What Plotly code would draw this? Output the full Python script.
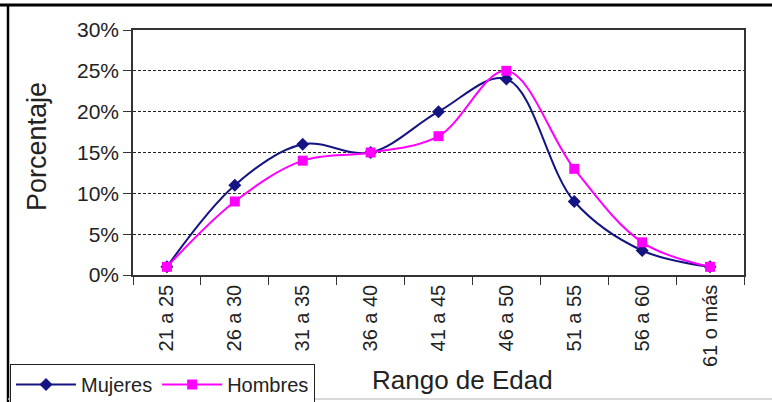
import plotly.graph_objects as go

categorias = ["21 a 25", "26 a 30", "31 a 35", "36 a 40", "41 a 45",
              "46 a 50", "51 a 55", "56 a 60", "61 o más"]
mujeres = [1, 11, 16, 15, 20, 24, 9, 3, 1]
hombres = [1, 9, 14, 15, 17, 25, 13, 4, 1]
y_ticks = [0, 5, 10, 15, 20, 25, 30]
y_tick_labels = ["0%", "5%", "10%", "15%", "20%", "25%", "30%"]

W, H = 772, 402
L, R, T, B = 133, 744, 30, 275

def px(x):
    return (x - L) / (R - L)

def py(y):
    return (B - y) / (B - T)

FONT = "Liberation Sans, Arial, sans-serif"

fig = go.Figure()
fig.add_trace(go.Scatter(
    x=categorias, y=mujeres, name="Mujeres", mode="lines+markers",
    line=dict(color="#141482", width=2, shape="spline", smoothing=1),
    marker=dict(symbol="diamond", size=10, color="#141482"),
))
fig.add_trace(go.Scatter(
    x=categorias, y=hombres, name="Hombres", mode="lines+markers",
    line=dict(color="#ff00ff", width=2, shape="spline", smoothing=1),
    marker=dict(symbol="square", size=10, color="#ff00ff"),
))

fig.update_layout(
    width=W, height=H,
    margin=dict(l=L, r=W - R, t=T, b=H - B, autoexpand=False),
    paper_bgcolor="white", plot_bgcolor="white",
    font=dict(family=FONT, color="#222222"),
    showlegend=True,
    legend=dict(
        orientation="h", x=px(10), y=py(364), xanchor="left", yanchor="top",
        bordercolor="#222222", borderwidth=1, bgcolor="white",
        font=dict(family=FONT, size=20, color="#222222"),
        itemwidth=60, tracegroupgap=0,
    ),
    xaxis=dict(
        type="category", range=[-0.5, 8.5],
        showgrid=False, showline=True, linecolor="#333333", linewidth=1.5,
        mirror=True, ticks="outside", ticklen=8, tickcolor="#333333",
        tickson="boundaries", tickangle=-90,
        tickfont=dict(family=FONT, size=20, color="#222222"),
    ),
    yaxis=dict(
        range=[0, 30], tickvals=y_ticks, ticktext=y_tick_labels,
        showgrid=True, gridcolor="#222222", gridwidth=1, griddash="3px,2px",
        showline=True, linecolor="#333333", linewidth=1.5, mirror=True,
        ticks="outside", ticklen=8, tickcolor="#333333",
        tickfont=dict(family=FONT, size=21, color="#222222"),
        zeroline=False,
    ),
    annotations=[
        dict(text="Rango de Edad", x=px(462), y=py(380), xref="paper", yref="paper",
             showarrow=False, xanchor="center", yanchor="middle",
             font=dict(family=FONT, size=26, color="#222222")),
        dict(text="Porcentaje", x=px(37), y=py(147), xref="paper", yref="paper",
             showarrow=False, xanchor="center", yanchor="middle", textangle=-90,
             font=dict(family=FONT, size=27, color="#222222")),
    ],
    shapes=[
        dict(type="line", xref="paper", yref="paper", x0=px(0), x1=px(772),
             y0=py(5), y1=py(5), line=dict(color="black", width=3)),
        dict(type="line", xref="paper", yref="paper", x0=px(8), x1=px(8),
             y0=py(5), y1=py(402), line=dict(color="black", width=2.5)),
        dict(type="line", xref="paper", yref="paper", x0=px(8), x1=px(772),
             y0=py(399), y1=py(399), line=dict(color="#cccccc", width=1.5)),
    ],
)

fig.write_html(
    "out.html",
    config={"displayModeBar": False},
    post_script="document.body.style.margin='0';document.body.style.overflow='hidden';",
)
